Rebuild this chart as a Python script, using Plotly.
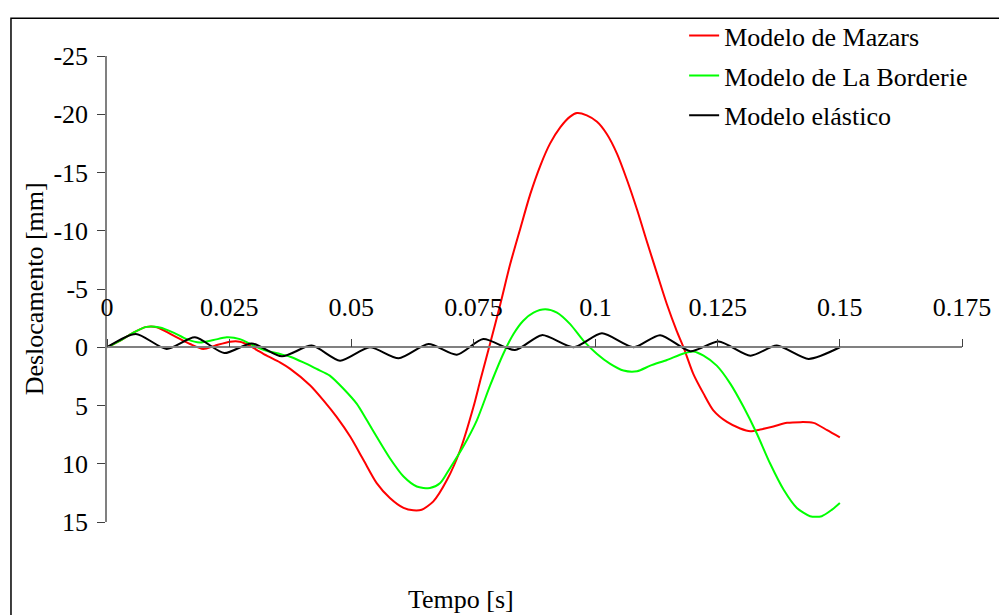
import plotly.graph_objects as go

# Modelo de Mazars
t_mazars = [0, 0.0027, 0.0054, 0.0081, 0.0102, 0.0143, 0.0170, 0.0197, 0.0221, 0.0252,
            0.0272, 0.0289, 0.0307, 0.0327, 0.0354, 0.0375, 0.0416, 0.0443, 0.0470, 0.0498,
            0.0525, 0.0552, 0.0579, 0.0607, 0.0627, 0.0644, 0.0668, 0.0696, 0.0723, 0.0750,
            0.0764, 0.0784, 0.0805, 0.0825, 0.0846, 0.0866, 0.0887, 0.0907, 0.0928, 0.0948,
            0.0962, 0.0982, 0.1003, 0.1023, 0.1044, 0.1064, 0.1085, 0.1105, 0.1126, 0.1146,
            0.1166, 0.1180, 0.1200, 0.1221, 0.1241, 0.1269, 0.1296, 0.1317, 0.1337, 0.1364,
            0.1392, 0.1446, 0.1474, 0.1500]
d_mazars = [0, -0.57, -1.26, -1.75, -1.72, -0.85, -0.28, 0.15, -0.14, -0.48,
            -0.48, -0.2, 0.24, 0.72, 1.3, 1.86, 3.28, 4.56, 5.98, 7.69,
            9.68, 11.66, 12.94, 13.79, 14.0, 13.95, 13.23, 11.38, 8.82, 5.13,
            2.86, -0.3, -3.69, -7.1, -10.2, -13.1, -15.6, -17.5, -18.9, -19.8,
            -20.1, -19.9, -19.35, -18.3, -16.6, -14.4, -11.8, -9.08, -6.3, -3.69,
            -1.41, 0.0, 2.28, 3.98, 5.41, 6.41, 6.97, 7.2, 7.06, 6.8,
            6.49, 6.49, 7.12, 7.74]

# Modelo de La Borderie
t_borderie = [0, 0.0027, 0.0054, 0.0081, 0.0108, 0.0136, 0.0163, 0.0190, 0.0218, 0.0245,
              0.0272, 0.0300, 0.0327, 0.0354, 0.0375, 0.0402, 0.0429, 0.0456, 0.0484, 0.0511,
              0.0532, 0.0552, 0.0579, 0.0607, 0.0634, 0.0661, 0.0682, 0.0702, 0.0729, 0.0757,
              0.0784, 0.0811, 0.0832, 0.0852, 0.0873, 0.0897, 0.0921, 0.0948, 0.0975, 0.1003,
              0.1030, 0.1057, 0.1085, 0.1112, 0.1146, 0.1180, 0.1200, 0.1221, 0.1248, 0.1276,
              0.1303, 0.1330, 0.1357, 0.1385, 0.1412, 0.1439, 0.1463, 0.1484, 0.1500]
d_borderie = [0, -0.57, -1.26, -1.75, -1.70, -1.26, -0.70, -0.41, -0.62, -0.85,
              -0.70, -0.14, 0.30, 0.58, 0.81, 1.30, 1.86, 2.43, 3.56, 4.84,
              6.27, 7.69, 9.53, 11.1, 11.95, 12.09, 11.66, 10.38, 8.54, 6.27,
              3.3, 0.58, -1.14, -2.28, -2.97, -3.26, -2.97, -1.98, -0.57, 0.58,
              1.43, 2.0, 2.06, 1.58, 1.09, 0.53, 0.36, 0.72, 1.58, 3.14,
              5.13, 7.4, 9.96, 12.23, 13.79, 14.5, 14.5, 13.94, 13.37]

# Modelo elástico
t_elastico = [0, 0.0059, 0.0122, 0.0180, 0.0240, 0.0296, 0.0358, 0.0419, 0.0477, 0.0538,
              0.0597, 0.0658, 0.0716, 0.0770, 0.0835, 0.0890, 0.0955, 0.1013, 0.1078, 0.1132,
              0.1194, 0.1252, 0.1317, 0.1371, 0.1436, 0.1500]
d_elastico = [0, -1.14, 0.15, -0.85, 0.5, -0.33, 0.78, -0.14, 1.15, 0.0,
              0.95, -0.27, 0.64, -0.7, 0.24, -1.04, 0.0, -1.2, 0.0, -1.04,
              0.34, -0.5, 0.72, -0.14, 1.0, 0.0]

y_ticks = [-25, -20, -15, -10, -5, 0, 5, 10, 15]
y_ticktext = ["-25", "-20", "-15", "-10", "-5", "0", "5", "10", "15"]
x_ticks = [0, 0.025, 0.05, 0.075, 0.1, 0.125, 0.15, 0.175]
x_ticktext = ["0", "0.025", "0.05", "0.075", "0.1", "0.125", "0.15", "0.175"]

FONT = "Liberation Serif, Times New Roman, serif"

fig = go.Figure()
series = [
    ("Modelo de Mazars", t_mazars, d_mazars, "#ff0000"),
    ("Modelo de La Borderie", t_borderie, d_borderie, "#00ff00"),
    ("Modelo elástico", t_elastico, d_elastico, "#000000"),
]
for name, t, d, col in series:
    fig.add_trace(go.Scatter(
        x=t, y=d, name=name, mode="lines",
        line=dict(color=col, width=2, shape="spline", smoothing=0.7),
        legendgroup=name,
    ))

# position of y=0 in paper coords (range 15 -> -25)
y0_pos = (0 - 15) / (-25 - 15)

fig.update_layout(
    width=999, height=615,
    margin=dict(l=107, r=37, t=52, b=93),
    paper_bgcolor="white", plot_bgcolor="white",
    font=dict(family=FONT, size=26, color="black"),
    showlegend=True,
    legend=dict(x=0.675, y=1.094, xanchor="left", yanchor="top",
                bgcolor="rgba(0,0,0,0)", tracegroupgap=3,
                font=dict(family=FONT, size=26)),
    xaxis=dict(range=[0, 0.175], tickvals=x_ticks, ticktext=x_ticktext,
               anchor="free", position=y0_pos, side="top", automargin=False,
               showline=True, linecolor="#808080", linewidth=1.5,
               ticks="outside", ticklen=8, tickcolor="#404040", tickwidth=1,
               ticklabelstandoff=12,
               showgrid=False, zeroline=False),
    yaxis=dict(range=[15, -25], tickvals=y_ticks, ticktext=y_ticktext,
               automargin=False,
               showline=True, linecolor="#808080", linewidth=1.5,
               ticks="outside", ticklen=8, tickcolor="#404040", tickwidth=1,
               ticklabelstandoff=4,
               showgrid=False, zeroline=False),
    annotations=[
        dict(text="Deslocamento [mm]", textangle=-90, x=-0.085, y=0.5,
             xanchor="center", yanchor="middle",
             xref="paper", yref="paper", showarrow=False,
             font=dict(family=FONT, size=26)),
        dict(text="Tempo [s]", x=0.414, y=-0.166, xanchor="center", yanchor="middle",
             xref="paper", yref="paper",
             showarrow=False, font=dict(family=FONT, size=26)),
    ],
    shapes=[
        dict(type="rect", xref="paper", yref="paper",
             x0=-0.1123, y0=-0.4, x1=1.2, y1=1.0809,
             line=dict(color="black", width=1.5)),
    ],
)

fig.write_html("out.html", config={"displayModeBar": False},
               post_script="document.body.style.margin='0px';")
